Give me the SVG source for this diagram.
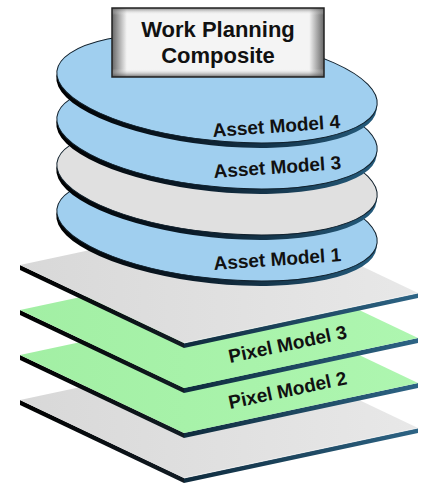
<svg xmlns="http://www.w3.org/2000/svg" width="425" height="484" viewBox="0 0 425 484">
<style>
.lbl{font-family:"Liberation Sans",Arial,sans-serif;font-weight:bold;font-size:19px;fill:#111}
.title{font-family:"Liberation Sans",Arial,sans-serif;font-weight:bold;font-size:22px;fill:#111;text-anchor:middle}
.gray{fill:url(#grayFace)}
.green{fill:url(#greenFace)}
.rl{fill:url(#rimL)}
.rr{fill:url(#rimR)}
.blue{fill:#a0cfef;stroke:#10202c;stroke-width:1}
.dgray{fill:#e0e0e0;stroke:#10202c;stroke-width:1}
.drim{fill:url(#discRim)}
.hl{fill:none;stroke:#f6f6f6;stroke-width:0.8}
</style>
<defs>
<linearGradient id="rimL" x1="0" y1="0" x2="1" y2="0"><stop offset="0" stop-color="#000"/><stop offset="1" stop-color="#121c24"/></linearGradient>
<linearGradient id="rimR" x1="0" y1="0" x2="1" y2="0"><stop offset="0" stop-color="#0f2b3d"/><stop offset="1" stop-color="#2d6485"/></linearGradient>
<linearGradient id="discRim" gradientUnits="userSpaceOnUse" x1="56" y1="0" x2="378" y2="0"><stop offset="0" stop-color="#000"/><stop offset="0.45" stop-color="#0b1c2a"/><stop offset="1" stop-color="#245b7c"/></linearGradient>
<linearGradient id="grayFace" x1="0" y1="0" x2="1" y2="0"><stop offset="0" stop-color="#d8d8d8"/><stop offset="1" stop-color="#e8e8e8"/></linearGradient>
<linearGradient id="greenFace" x1="0" y1="0" x2="1" y2="0"><stop offset="0" stop-color="#a2efa4"/><stop offset="1" stop-color="#aef6b0"/></linearGradient>
<linearGradient id="boxH" x1="0" y1="0" x2="1" y2="0"><stop offset="0" stop-color="#666"/><stop offset="0.07" stop-color="#f4f4f4"/><stop offset="0.93" stop-color="#f4f4f4"/><stop offset="1" stop-color="#666"/></linearGradient>
<linearGradient id="boxV" x1="0" y1="0" x2="0" y2="1"><stop offset="0" stop-color="#555" stop-opacity="0.7"/><stop offset="0.1" stop-color="#fff" stop-opacity="0"/><stop offset="0.88" stop-color="#fff" stop-opacity="0"/><stop offset="1" stop-color="#444" stop-opacity="0.8"/></linearGradient>
</defs>

<g id="plate-4">
<polygon class="rl" points="20,400 184,478 184,483 20,405"/>
<polygon class="rr" points="184,478 418,428 418,433 184,483"/>
<polygon class="gray" points="20,400 184,478 418,428 254,350"/>
<polyline class="hl" points="184,478 418,428"/>
</g>
<g id="plate-3">
<polygon class="rl" points="20,355 184,433 184,438 20,360"/>
<polygon class="rr" points="184,433 418,383 418,388 184,438"/>
<polygon class="green" points="20,355 184,433 418,383 254,305"/>
<text class="lbl" transform="translate(230,409) rotate(-12)">Pixel Model 2</text>
</g>
<g id="plate-2">
<polygon class="rl" points="20,310 184,388 184,393 20,315"/>
<polygon class="rr" points="184,388 418,338 418,343 184,393"/>
<polygon class="green" points="20,310 184,388 418,338 254,260"/>
<text class="lbl" transform="translate(230,363) rotate(-12)">Pixel Model 3</text>
</g>
<g id="plate-1">
<polygon class="rl" points="20,265 184,343 184,348 20,270"/>
<polygon class="rr" points="184,343 418,293 418,298 184,348"/>
<polygon class="gray" points="20,265 184,343 418,293 254,215"/>
<polyline class="hl" points="184,343 418,293"/>
</g>

<g id="disc-1">
<g transform="rotate(6 217 226)">
<ellipse class="drim" cx="217" cy="231" rx="161" ry="52.6"/>
<ellipse class="blue" cx="217" cy="226" rx="161" ry="52.6"/>
</g>
<text class="lbl" transform="translate(214,270) rotate(-4)">Asset Model 1</text>
</g>
<g id="disc-2">
<g transform="rotate(6 217 180)">
<ellipse class="drim" cx="217" cy="185" rx="161" ry="52.6"/>
<ellipse class="dgray" cx="217" cy="180" rx="161" ry="52.6"/>
</g>
</g>
<g id="disc-3">
<g transform="rotate(6 217 134)">
<ellipse class="drim" cx="217" cy="139" rx="161" ry="52.6"/>
<ellipse class="blue" cx="217" cy="134" rx="161" ry="52.6"/>
</g>
<text class="lbl" transform="translate(214,178) rotate(-4)">Asset Model 3</text>
</g>
<g id="disc-4">
<g transform="rotate(6 217 88)">
<ellipse class="drim" cx="217" cy="93" rx="161" ry="52.6"/>
<ellipse class="blue" cx="217" cy="88" rx="161" ry="52.6"/>
</g>
<text class="lbl" transform="translate(213,137) rotate(-4)">Asset Model 4</text>
</g>

<g id="composite-box">
<rect x="112" y="8" width="212" height="69" fill="url(#boxH)"/>
<rect x="112" y="8" width="212" height="69" fill="url(#boxV)" stroke="#222" stroke-width="1.5"/>
<text class="title" x="218" y="37">Work Planning</text>
<text class="title" x="218" y="63">Composite</text>
</g>
<g id="connectors"/>
</svg>
